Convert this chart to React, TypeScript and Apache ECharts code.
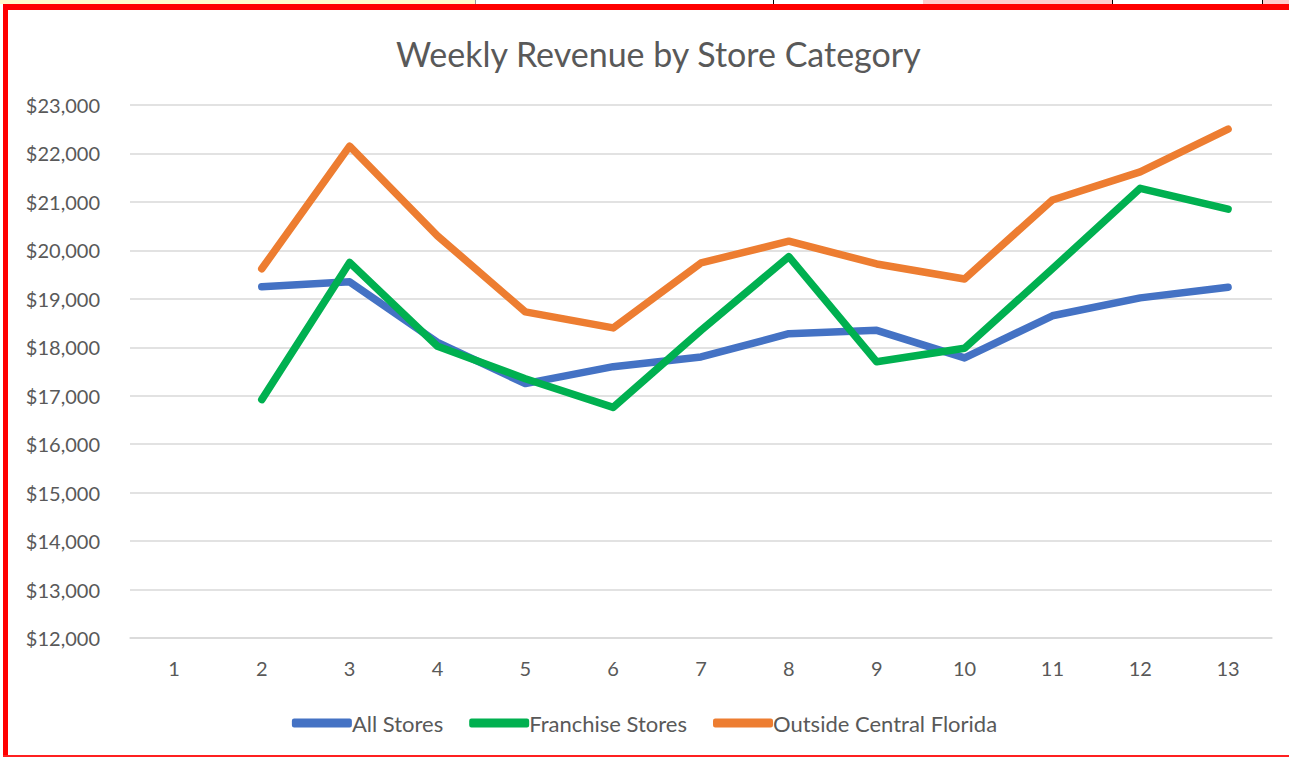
import React, { useEffect, useRef } from "react";
import * as echarts from "echarts";

const weeks = ["1", "2", "3", "4", "5", "6", "7", "8", "9", "10", "11", "12", "13"];
const allStores = [null, 19250, 19350, 18100, 17250, 17600, 17800, 18280, 18350, 17780, 18650, 19020, 19240];
const franchiseStores = [null, 16920, 19750, 18020, 17350, 16760, 18350, 19870, 17700, 17980, 19620, 21280, 20850];
const outsideCentralFlorida = [null, 19620, 22150, 20300, 18730, 18400, 19740, 20190, 19720, 19410, 21040, 21620, 22500];
const seriesNames = ["All Stores", "Franchise Stores", "Outside Central Florida"];
const seriesColors = ["#4472C4", "#00B050", "#ED7D31"];
const yMin = 12000;
const yMax = 23000;
const yStep = 1000;

const FONT = "Lato";

export default function App() {
  const ref = useRef<HTMLDivElement>(null);
  useEffect(() => {
    if (!ref.current) return;
    const chart = echarts.init(ref.current, null, { renderer: "svg" });
    const values = [allStores, franchiseStores, outsideCentralFlorida];
    chart.setOption({
      animation: false,
      title: {
        text: "Weekly Revenue by Store Category",
        left: 391,
        top: 31,
        textStyle: { fontFamily: FONT, fontSize: 34, fontWeight: "normal", color: "#595959" },
      },
      legend: {
        bottom: 18,
        left: "center",
        itemWidth: 60,
        itemHeight: 9,
        itemGap: 26,
        icon: "roundRect",
        data: seriesNames,
        textStyle: { fontFamily: FONT, fontSize: 22, color: "#595959", padding: [0, 0, 0, -5] },
      },
      grid: { left: 130, right: 17, top: 105, bottom: 119, containLabel: false },
      xAxis: {
        type: "category",
        data: weeks,
        boundaryGap: true,
        axisLine: { show: true, lineStyle: { color: "#d9d9d9", width: 1.5 } },
        axisTick: { show: false },
        axisLabel: { fontFamily: FONT, fontSize: 20, color: "#595959", margin: 20 },
      },
      yAxis: {
        type: "value",
        min: yMin,
        max: yMax,
        interval: yStep,
        axisLine: { show: false },
        axisTick: { show: false },
        splitLine: { lineStyle: { color: "#d9d9d9", width: 1.5 } },
        axisLabel: {
          fontFamily: FONT,
          fontSize: 20,
          color: "#595959",
          margin: 30,
          formatter: (v: number) => "$" + v.toLocaleString("en-US"),
        },
      },
      series: seriesNames.map((name, i) => ({
        name,
        type: "line",
        data: values[i],
        showSymbol: false,
        symbol: "none",
        color: seriesColors[i],
        lineStyle: { width: 7.5, color: seriesColors[i], cap: "round", join: "round" },
      })),
    });
    return () => chart.dispose();
  }, []);

  return (
    <div style={{ position: "fixed", left: 0, top: 0, width: 1289, height: 757, background: "#fff", overflow: "hidden" }}>
      <div style={{ position: "absolute", left: 0, top: 0, width: 475, height: 4, background: "#FFFBCC" }} />
      <div style={{ position: "absolute", left: 923, top: 0, width: 189, height: 4, background: "#FFCCCC" }} />
      <div style={{ position: "absolute", left: 1263, top: 0, width: 26, height: 4, background: "#FFCCCC" }} />
      <div style={{ position: "absolute", left: 475, top: 0, width: 1, height: 4, background: "#999" }} />
      <div style={{ position: "absolute", left: 773, top: 0, width: 1, height: 4, background: "#000" }} />
      <div style={{ position: "absolute", left: 1112, top: 0, width: 1, height: 4, background: "#000" }} />
      <div style={{ position: "absolute", left: 1262, top: 0, width: 1, height: 4, background: "#000" }} />
      <div ref={ref} style={{ position: "absolute", left: 0, top: 0, width: 1289, height: 757 }} />
      <div style={{ position: "absolute", left: 3, top: 4, width: 1286, height: 6, background: "#FF0000" }} />
      <div style={{ position: "absolute", left: 3, top: 4, width: 5, height: 753, background: "#FF0000" }} />
      <div style={{ position: "absolute", left: 3, top: 755, width: 1286, height: 2, background: "#FF2020" }} />
    </div>
  );
}
